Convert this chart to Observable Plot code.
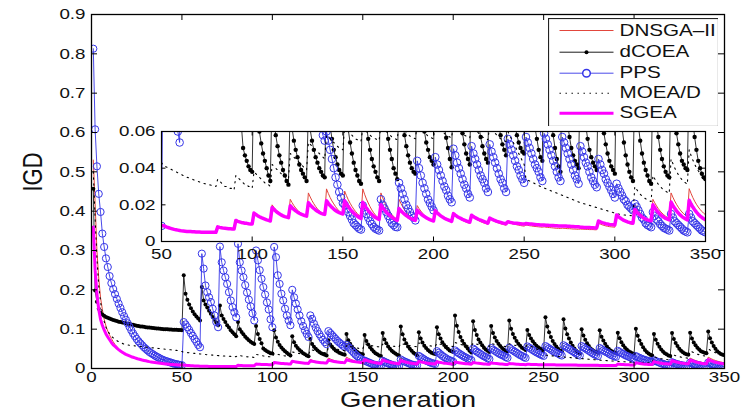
<!DOCTYPE html>
<html><head><meta charset="utf-8">
<script src="https://cdn.jsdelivr.net/npm/d3@7"></script>
<script src="https://cdn.jsdelivr.net/npm/@observablehq/plot@0.6"></script>
<style>
html,body{margin:0;padding:0;background:#fff;}
#chart{position:relative;width:750px;height:418px;overflow:hidden;font-family:"Liberation Sans",Arial,sans-serif;}
#chart svg{position:absolute;left:0;top:0;}
</style></head><body><div id="chart"></div>
<script>
// ---------------- data (IGD values in units of 1e-4, generations 1..350) ----------------
const seriesNames = ["DNSGA–II", "dCOEA", "PPS", "MOEA/D", "SGEA"];
const xTicks = [0, 50, 100, 150, 200, 250, 300, 350];
const yTicks = [0, 0.1, 0.2, 0.3, 0.4, 0.5, 0.6, 0.7, 0.8, 0.9];
const insetXTicks = [50, 100, 150, 200, 250, 300, 350];
const insetYTicks = [0, 0.02, 0.04, 0.06];

const sgea = [
3600,2500,1900,1500,1250,1100,980,880,800,730,
660,600,560,520,480,445,415,385,360,340,
320,300,285,270,255,240,228,215,205,195,
185,175,167,160,152,145,139,133,127,122,
117,112,108,104,100,97,94,91,89,87,
86,82,78,75,72,69,66,64,62,60,
58,57,56,55,54,54,53,53,52,52,
52,51,51,51,50,50,50,50,50,50,
80,77,75,73,72,71,70,69,68,68,
115,110,107,104,102,100,99,97,96,95,
155,148,141,135,130,126,122,118,115,112,
185,175,166,158,151,145,140,136,133,130,
195,184,175,167,160,154,149,145,141,138,
212,200,189,180,172,165,159,154,150,148,
222,208,196,186,177,169,162,157,153,150,
222,205,190,177,165,155,146,138,131,125,
214,197,182,169,157,147,138,131,125,120,
200,185,172,160,150,141,133,126,120,115,
180,168,158,149,141,134,128,123,119,115,
170,160,151,143,136,130,124,119,115,112,
168,157,148,140,133,127,122,118,114,110,
152,144,137,131,126,121,117,113,109,105,
143,136,130,125,120,116,112,108,104,100,
128,123,118,114,110,107,104,101,99,97,
108,105,103,101,100,99,98,97,96,95,
98,97,96,95,94,93,92,91,90,90,
90,89,89,88,87,87,86,86,85,85,
85,84,84,83,83,82,82,81,81,80,
78,78,77,77,76,76,75,75,74,74,
112,107,103,100,97,95,93,92,91,90,
145,136,128,121,115,111,107,104,102,100,
175,162,151,142,134,127,122,118,115,113,
200,184,170,158,148,139,132,126,122,118,
215,197,181,167,155,145,136,129,123,118,
225,205,188,173,160,149,139,131,124,118
];

const dnsga = [
5300,4200,3000,2300,1800,1500,1250,1080,950,850,
760,680,610,560,500,460,425,392,365,342,
320,300,285,270,255,240,228,215,205,195,
185,175,167,160,152,145,139,133,127,122,
117,112,108,104,100,97,94,91,89,87,
86,82,78,75,72,69,66,64,62,60,
58,57,56,55,54,54,53,53,52,52,
52,51,51,51,50,50,50,50,50,50,
80,77,75,73,72,71,70,69,68,68,
115,110,107,104,102,100,99,97,96,95,
160,150,142,135,129,124,120,116,113,110,
200,186,174,164,155,148,142,137,133,128,
230,212,196,183,171,161,153,146,140,135,
265,243,223,206,191,178,167,158,151,145,
287,262,240,221,205,190,177,166,157,150,
275,250,228,209,192,177,164,152,142,133,
287,258,232,210,190,172,157,144,133,125,
265,238,214,194,176,161,148,137,127,118,
230,208,189,173,159,147,137,128,120,113,
196,180,166,154,143,134,126,119,114,110,
175,162,150,140,131,124,118,113,109,105,
155,145,136,128,121,115,110,106,102,99,
140,132,125,119,113,108,104,100,97,94,
125,119,113,108,104,100,97,94,91,89,
105,101,98,95,93,91,89,87,85,84,
90,88,86,85,83,82,81,80,79,78,
80,78,77,76,75,74,73,72,72,71,
73,72,71,70,70,69,68,68,67,67,
68,67,67,66,66,65,65,65,64,64,
100,95,91,88,85,83,81,80,79,78,
150,138,128,120,113,107,102,98,95,93,
200,183,168,155,144,135,127,121,116,112,
230,211,194,179,166,155,146,138,131,125,
265,242,221,203,187,173,161,151,142,135,
288,263,240,220,203,188,175,164,154,146
];

const dcoea = [
4570,1980,1700,1520,1420,1370,1340,1310,1290,1270,
1250,1235,1220,1205,1190,1180,1170,1160,1150,1140,
1130,1120,1110,1100,1090,1080,1070,1065,1060,1050,
1045,1040,1035,1030,1025,1020,1015,1010,1005,1000,
998,995,992,990,987,985,982,980,977,975,
2370,1900,1750,1630,1530,1450,1380,1320,1270,1220,
2070,1730,1630,1550,1470,1390,1310,1240,1170,1100,
1600,1350,1260,1180,1100,1040,970,920,870,820,
1180,1000,930,870,810,760,720,680,650,620,
1080,880,750,640,510,470,440,410,390,380,
970,790,680,600,535,480,440,400,360,330,
820,670,580,520,470,430,390,360,330,310,
750,620,550,500,460,420,390,370,350,330,
720,610,550,500,460,430,400,380,360,350,
880,720,630,560,500,460,420,390,370,360,
850,700,610,540,480,430,390,360,330,315,
900,740,640,560,500,450,410,380,350,330,
1070,870,740,640,560,500,450,400,370,340,
920,760,660,580,520,470,430,400,380,370,
1050,870,760,670,600,540,500,460,440,420,
1350,1085,925,800,707,630,566,510,450,405,
1200,980,850,740,660,590,530,480,450,420,
1080,900,790,700,630,570,520,480,450,430,
1220,1010,880,780,700,630,580,530,500,470,
980,850,760,690,630,580,540,510,490,480,
1300,1070,920,800,700,620,560,500,460,440,
1250,1020,870,760,660,580,510,450,410,380,
1000,840,730,640,570,510,470,440,420,400,
970,810,710,630,560,500,460,430,410,390,
910,770,670,590,530,480,440,410,390,370,
1010,830,710,620,540,470,420,380,350,330,
880,730,630,550,480,430,390,360,330,315,
900,750,650,570,500,450,410,380,360,350,
910,760,660,590,530,480,440,420,400,390,
940,770,660,570,500,440,400,370,350,340
];

const pps = [
8130,6080,5140,4440,3980,3430,3090,2800,2580,2350,
2170,2020,1890,1770,1650,1540,1430,1330,1240,1150,
1060,970,890,820,750,690,640,590,540,500,
460,420,390,360,330,300,280,250,230,210,
190,180,160,150,130,120,110,100,90,85,
1180,1120,1050,980,900,830,750,680,600,540,
2920,2540,2110,1940,1810,1690,1520,1350,1180,1050,
3100,2700,2490,2320,2150,1940,1730,1560,1430,1300,
3170,2700,2490,2320,2120,1930,1750,1580,1400,1220,
3000,2750,2500,2280,2070,1880,1680,1500,1250,1050,
3090,2830,2370,2150,1900,1730,1520,1350,1220,1100,
2000,1810,1650,1500,1350,1200,1080,970,880,800,
1350,1260,1140,1040,950,870,800,730,670,620,
950,900,850,800,750,700,660,620,580,550,
600,550,500,450,400,350,310,270,240,210,
200,180,160,140,120,100,90,80,70,65,
196,170,150,130,110,95,80,70,65,60,
230,200,180,160,140,120,100,90,80,78,
320,290,260,230,200,180,160,140,130,115,
440,400,360,320,290,260,230,210,190,170,
460,420,390,360,330,300,280,250,230,214,
506,470,430,400,370,340,310,290,260,240,
520,480,450,420,390,360,340,320,290,270,
530,490,460,430,400,370,340,320,290,270,
560,530,500,470,440,410,390,360,340,320,
570,540,510,480,450,420,400,380,350,330,
590,560,530,500,470,440,410,380,350,330,
570,540,510,480,450,420,390,360,340,315,
520,490,460,430,410,380,350,330,310,296,
450,420,390,370,340,320,300,280,260,240,
315,290,270,250,230,220,200,190,180,170,
206,190,170,150,130,120,100,90,85,78,
160,140,120,110,95,85,75,70,65,60,
150,130,110,100,90,80,70,60,55,50,
150,130,110,100,90,80,70,60,55,50
];

const moead = [
5000,3800,2800,2100,1700,1400,1200,1050,950,880,
820,780,740,710,680,660,640,620,610,600,
590,585,580,575,570,565,560,555,550,545,
540,535,530,525,520,515,510,505,500,495,
490,485,480,475,470,465,460,450,440,430,
415,410,405,400,395,390,385,380,375,370,
365,360,355,350,348,345,340,335,330,328,
325,320,318,315,312,310,308,305,303,300,
340,330,320,310,300,300,290,290,290,280,
360,350,340,330,320,310,310,300,300,290,
380,370,360,350,340,330,320,320,310,300,
420,410,400,390,380,370,360,360,350,340,
480,470,460,450,440,430,420,410,400,390,
540,530,520,510,500,490,480,470,460,450,
580,570,560,550,540,530,520,510,505,500,
630,615,600,590,580,570,560,555,550,545,
620,610,600,590,580,570,565,560,555,550,
640,625,610,600,590,580,570,565,560,555,
650,635,620,605,595,585,575,570,565,560,
640,625,615,605,595,585,575,570,565,560,
660,645,630,615,600,590,580,575,570,565,
650,635,620,610,600,590,580,575,570,565,
640,625,610,600,590,580,570,565,560,555,
630,615,600,590,580,570,560,555,550,545,
600,580,560,540,520,500,480,460,440,420,
340,335,330,325,320,315,310,305,300,296,
292,288,284,280,276,272,268,264,260,256,
252,248,244,240,236,232,228,224,220,216,
212,209,206,203,200,197,194,191,188,185,
182,179,176,173,170,167,164,161,158,155,
152,150,148,146,145,144,143,142,141,140,
300,285,270,258,248,240,233,227,222,218,
360,342,326,312,300,290,282,275,268,262,
450,425,402,382,365,350,338,328,320,312,
500,470,445,422,402,386,372,360,350,342
];

// ---------------- build tables ----------------
const toRows = (name, vals) => vals.map((v, i) => ({series: name, gen: i + 1, igd: v * 1e-4}));
const R = {
  dnsga: toRows(seriesNames[0], dnsga),
  dcoea: toRows(seriesNames[1], dcoea),
  pps: toRows(seriesNames[2], pps),
  moead: toRows(seriesNames[3], moead),
  sgea: toRows(seriesNames[4], sgea)
};
const C = {red: "#e2463c", blue: "#3636e8", mag: "#ff00ff", black: "#000"};
const FONT = "Liberation Sans, Arial, Helvetica, sans-serif";
const fmt = d => String(+(+d).toFixed(2));

function seriesMarks(rows, opts) {
  const clip = opts.clip;
  return [
    Plot.line(rows.dnsga, {x: "gen", y: "igd", stroke: C.red, strokeWidth: 1, clip}),
    Plot.line(rows.dcoea, {x: "gen", y: "igd", stroke: C.black, strokeWidth: 0.8, clip}),
    Plot.dot(rows.dcoea, {x: "gen", y: "igd", fill: C.black, r: opts.dotR, clip}),
    Plot.line(rows.pps, {x: "gen", y: "igd", stroke: C.blue, strokeWidth: 0.9, clip}),
    Plot.dot(rows.pps, {x: "gen", y: "igd", stroke: C.blue, fill: "none", r: opts.circR, strokeWidth: 1, clip}),
    Plot.line(rows.moead, {x: "gen", y: "igd", stroke: C.black, strokeWidth: 1.1, strokeDasharray: "1.4,4.6", clip}),
    Plot.line(rows.sgea, {x: "gen", y: "igd", stroke: C.mag, strokeWidth: opts.magW, clip})
  ];
}

// ---------------- main chart ----------------
const W = 750, H = 418;
const mainM = {l: 91, r: 26, t: 14, b: 50};
const fw = W - mainM.l - mainM.r, fh = H - mainM.t - mainM.b;
const main = Plot.plot({
  width: W, height: H,
  marginLeft: mainM.l, marginRight: mainM.r, marginTop: mainM.t, marginBottom: mainM.b,
  style: {fontFamily: FONT, fontSize: "15px", color: "#111", background: "transparent"},
  x: {domain: [0, 350], label: null},
  y: {domain: [0, 0.9], label: null},
  marks: [
    ...seriesMarks(R, {clip: true, dotR: 2, circR: 3.6, magW: 3}),
    Plot.tickX(xTicks, {x: d => d, insetTop: fh - 6, stroke: "#000"}),
    Plot.tickX(xTicks, {x: d => d, insetBottom: fh - 6, stroke: "#000"}),
    Plot.tickY(yTicks, {y: d => d, insetRight: fw - 6, stroke: "#000"}),
    Plot.tickY(yTicks, {y: d => d, insetLeft: fw - 6, stroke: "#000"}),
    Plot.frame({stroke: "#000", strokeWidth: 1.3}),
    Plot.axisX({ticks: xTicks, tickSize: 0, tickPadding: 3, tickFormat: fmt, label: null}),
    Plot.axisY({ticks: yTicks, tickSize: 0, tickPadding: 6, tickFormat: fmt, label: null}),
    Plot.text(["Generation"], {frameAnchor: "bottom", dy: 38, fontSize: 22, fill: "#111"}),
    Plot.text(["IGD"], {frameAnchor: "left", rotate: -90, dx: -58, fontSize: 22, fill: "#111"})
  ]
});

// ---------------- inset ----------------
const insM = {l: 161, r: 45, t: 131, b: 177};
const iw = W - insM.l - insM.r, ih = H - insM.t - insM.b;
const sub = {};
for (const k in R) sub[k] = R[k].filter(d => d.gen >= 50);
const inset = Plot.plot({
  width: W, height: H,
  marginLeft: insM.l, marginRight: insM.r, marginTop: insM.t, marginBottom: insM.b,
  style: {fontFamily: FONT, fontSize: "15px", color: "#111", background: "transparent"},
  x: {domain: [50, 350], label: null},
  y: {domain: [0, 0.06], label: null},
  marks: [
    Plot.frame({fill: "white"}),
    ...seriesMarks(sub, {clip: true, dotR: 2.2, circR: 3.8, magW: 3.5}),
    Plot.tickX(insetXTicks, {x: d => d, insetTop: ih - 4.5, stroke: "#000"}),
    Plot.tickX(insetXTicks, {x: d => d, insetBottom: ih - 4.5, stroke: "#000"}),
    Plot.tickY(insetYTicks, {y: d => d, insetRight: iw - 4.5, stroke: "#000"}),
    Plot.tickY(insetYTicks, {y: d => d, insetLeft: iw - 4.5, stroke: "#000"}),
    Plot.frame({stroke: "#000", strokeWidth: 1.2}),
    Plot.axisX({ticks: insetXTicks, tickSize: 0, tickPadding: 7, tickFormat: fmt, label: null}),
    Plot.axisY({ticks: insetYTicks, tickSize: 0, tickPadding: 6, tickFormat: fmt, label: null})
  ]
});

// ---------------- legend ----------------
const LW = 170, LH = 108;
const legendY = [12, 33.7, 54.7, 74.7, 94.7];
const L = seriesNames.map((name, i) => ({name, y: legendY[i]}));
const legend = Plot.plot({
  width: LW, height: LH, margin: 0,
  style: {fontFamily: FONT, background: "transparent"},
  x: {domain: [0, LW], range: [0, LW], axis: null},
  y: {domain: [0, LH], range: [0, LH], axis: null},
  marks: [
    Plot.frame({fill: "white", stroke: "#222", strokeWidth: 1.2}),
    Plot.link([L[0]], {x1: 11, x2: 65, y1: "y", y2: "y", stroke: C.red, strokeWidth: 1}),
    Plot.link([L[1]], {x1: 11, x2: 65, y1: "y", y2: "y", stroke: C.black, strokeWidth: 0.9}),
    Plot.dot([L[1]], {x: 38, y: "y", r: 2, fill: C.black}),
    Plot.link([L[2]], {x1: 11, x2: 65, y1: "y", y2: "y", stroke: C.blue, strokeWidth: 0.9}),
    Plot.dot([L[2]], {x: 38, y: "y", r: 3.8, stroke: C.blue, fill: "white"}),
    Plot.link([L[3]], {x1: 11, x2: 65, y1: "y", y2: "y", stroke: C.black, strokeWidth: 1.1, strokeDasharray: "1.4,4.6"}),
    Plot.link([L[4]], {x1: 11, x2: 65, y1: "y", y2: "y", stroke: C.mag, strokeWidth: 3}),
    Plot.text(L, {x: 71, y: "y", text: "name", textAnchor: "start", fontSize: 16.5, fill: "#111"})
  ]
});
legend.style.left = "548px";
legend.style.top = "18px";

// horizontal stretch of lettering, as in the source figure
function stretch(svg, k) {
  d3.select(svg).selectAll("text").each(function () {
    const t = this.getAttribute("transform");
    if (t) {
      this.setAttribute("transform", t + (t.includes("rotate") ? ` scale(1,${k})` : ` scale(${k},1)`));
    } else {
      const x = parseFloat(this.getAttribute("x")) || 0;
      this.setAttribute("transform", `translate(${x},0) scale(${k},1) translate(${-x},0)`);
    }
  });
}
[main, inset, legend].forEach(s => stretch(s, 1.25));

const root = document.getElementById("chart");
root.append(main, inset, legend);
</script>
</body></html>
